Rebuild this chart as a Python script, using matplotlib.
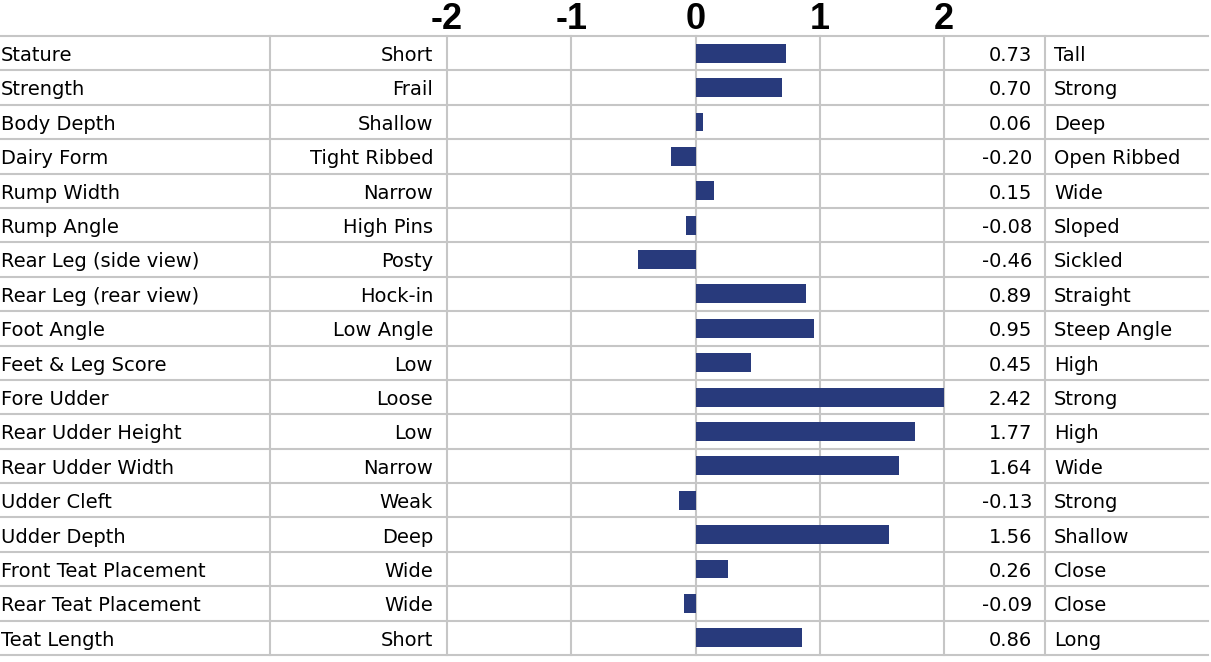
"""Linear type trait profile, table with diverging bars."""

import matplotlib.pyplot as plt
import matplotlib.transforms as mtransforms
import numpy as np

traits = [
    "Stature", "Strength", "Body Depth", "Dairy Form", "Rump Width",
    "Rump Angle", "Rear Leg (side view)", "Rear Leg (rear view)", "Foot Angle",
    "Feet & Leg Score", "Fore Udder", "Rear Udder Height", "Rear Udder Width",
    "Udder Cleft", "Udder Depth", "Front Teat Placement",
    "Rear Teat Placement", "Teat Length",
]
low_labels = [
    "Short", "Frail", "Shallow", "Tight Ribbed", "Narrow", "High Pins",
    "Posty", "Hock-in", "Low Angle", "Low", "Loose", "Low", "Narrow", "Weak",
    "Deep", "Wide", "Wide", "Short",
]
high_labels = [
    "Tall", "Strong", "Deep", "Open Ribbed", "Wide", "Sloped", "Sickled",
    "Straight", "Steep Angle", "High", "Strong", "High", "Wide", "Strong",
    "Shallow", "Close", "Close", "Long",
]
values = [
    0.73, 0.70, 0.06, -0.20, 0.15, -0.08, -0.46, 0.89, 0.95, 0.45, 2.42,
    1.77, 1.64, -0.13, 1.56, 0.26, -0.09, 0.86,
]
ticks = [-2, -1, 0, 1, 2]

plt.rcParams["font.family"] = ["DejaVu Sans"]

W, H = 1211, 662
GRID = "#c6c6c6"
BAR = "#283a7c"

fig = plt.figure(figsize=(W / 100, H / 100), dpi=100)
top_px, bot_px = 36, 655
left_px, right_px = 447, 944
ax = fig.add_axes([
    left_px / W, 1 - bot_px / H,
    (right_px - left_px) / W, (bot_px - top_px) / H,
])

n = len(traits)
y = np.arange(n)
shown = np.clip(values, ticks[0], ticks[-1])
ax.barh(y, shown, height=0.55, color=BAR, zorder=3)
ax.set_xlim(ticks[0], ticks[-1])
ax.set_ylim(n - 0.5, -0.5)
for t in ticks:
    ax.axvline(t, color=GRID, lw=1.5, zorder=1, clip_on=False)

ax.set_xticks(ticks)
ax.set_xticklabels([str(t) for t in ticks], fontsize=26, fontweight="bold",
                   family="Liberation Sans")
ax.tick_params(axis="x", top=True, labeltop=True, bottom=False,
               labelbottom=False, length=0, pad=-1)
ax.set_yticks([])
for s in ax.spines.values():
    s.set_visible(False)

# table parts: x in figure fraction, y in row units
tr = mtransforms.blended_transform_factory(fig.transFigure, ax.transData)
for i in range(n + 1):
    ax.plot([0, 1208 / W], [i - 0.5, i - 0.5], transform=tr, color=GRID,
            lw=1.5, clip_on=False, zorder=1)
for xp in (270, 1045):
    ax.plot([xp / W, xp / W], [-0.5, n - 0.5], transform=tr, color=GRID,
            lw=1.5, clip_on=False, zorder=1)

fs = 14
for i in range(n):
    yb = i + 0.23
    ax.text(1 / W, yb, traits[i], transform=tr, ha="left", va="baseline",
            fontsize=fs)
    ax.text(433 / W, yb, low_labels[i], transform=tr, ha="right",
            va="baseline", fontsize=fs)
    ax.text(1032 / W, yb, f"{values[i]:.2f}", transform=tr, ha="right",
            va="baseline", fontsize=fs)
    ax.text(1054 / W, yb, high_labels[i], transform=tr, ha="left",
            va="baseline", fontsize=fs)

fig.savefig("out.png", dpi=100)
